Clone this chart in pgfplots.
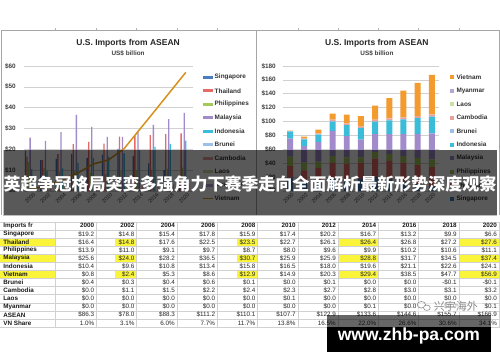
\documentclass[border=0pt]{standalone}
\usepackage{pgfplots}
\pgfplotsset{compat=1.18}
\usepackage{fontspec}
\setmainfont{Liberation Sans}
\newfontfamily\cjk{Noto Sans CJK SC}
\definecolor{cSing}{HTML}{4A7EBB}
\definecolor{cThai}{HTML}{E66A66}
\definecolor{cPhil}{HTML}{A5C85A}
\definecolor{cMal}{HTML}{A28BCB}
\definecolor{cIndo}{HTML}{3BBCD8}
\definecolor{cBru}{HTML}{9DC0E8}
\definecolor{cCam}{HTML}{E9A19B}
\definecolor{cLao}{HTML}{C9DFA3}
\definecolor{cMya}{HTML}{B6A6D6}
\definecolor{cViet}{HTML}{F39B2F}
\definecolor{cVnLine}{HTML}{D6911C}
\definecolor{cYel}{HTML}{FAF53A}
\begin{document}
\begin{tikzpicture}
\begin{scope}[x=1bp,y=1bp]
\useasboundingbox (0,0) rectangle (500,362);
\fill[white] (0,0) rectangle (500,362);
% panel frames
\draw[black!35, line width=0.6bp] (1.5,147) -- (1.5,331.5) -- (499,331.5) -- (499,147);
\draw[black!35, line width=0.6bp] (256.5,147) -- (256.5,331.5);
\foreach \xx in {55,96,136.5,177,217.5,298,338,378.5,418.5,459} \draw[black!30, line width=0.4bp] (\xx,331.5) -- (\xx,333.5);
% titles
\foreach \cx in {128,377}{
\node[font=\bfseries\fontsize{8.5bp}{10bp}\selectfont, text=black!85] at (\cx,319) {U.S. Imports from ASEAN};
\node[font=\bfseries\fontsize{6.4bp}{7bp}\selectfont, text=black!75] at (\cx,309) {US\$ billion};
}
\end{scope}
% ---------------- left chart ----------------
\begin{axis}[at={(23.8bp,171bp)}, anchor=south west, scale only axis,
  width=169.6bp, height=125bp, xmin=-0.5, xmax=10.5, ymin=0, ymax=60,
  ytick={0,10,20,30,40,50,60}, yticklabels={\$0,\$10,\$20,\$30,\$40,\$50,\$60},
  xtick={0,...,10}, xticklabels={2000,2002,2004,2006,2008,2010,2012,2014,2016,2018,2020},
  axis line style={draw=none}, major tick length=0, ymajorgrids,
  grid style={black!18, line width=0.5bp},
  yticklabel style={font=\bfseries\fontsize{6.4bp}{7bp}\selectfont, text=black!75, inner sep=0pt, xshift=-8bp},
  xticklabel style={font=\fontsize{5.5bp}{6bp}\selectfont, text=black!70, rotate=45, anchor=east, inner sep=0pt, yshift=-4bp}]
\addplot[ybar, bar width=1.3bp, bar shift=-6.2bp, fill=cSing, draw=none] coordinates {(0,19.2)(1,14.8)(2,15.4)(3,17.8)(4,15.9)(5,17.4)(6,20.2)(7,16.7)(8,13.2)(9,9.9)(10,6.6)};
\addplot[ybar, bar width=1.3bp, bar shift=-4.65bp, fill=cThai, draw=none] coordinates {(0,16.4)(1,14.8)(2,17.6)(3,22.5)(4,23.5)(5,22.7)(6,26.1)(7,26.4)(8,26.8)(9,27.2)(10,27.6)};
\addplot[ybar, bar width=1.3bp, bar shift=-3.1bp, fill=cPhil, draw=none] coordinates {(0,13.9)(1,11.0)(2,9.1)(3,9.7)(4,8.7)(5,8.0)(6,9.6)(7,9.9)(8,10.2)(9,10.6)(10,11.1)};
\addplot[ybar, bar width=1.3bp, bar shift=-1.55bp, fill=cMal, draw=none] coordinates {(0,25.6)(1,24.0)(2,28.2)(3,36.5)(4,30.7)(5,25.9)(6,25.9)(7,28.8)(8,31.7)(9,34.5)(10,37.4)};
\addplot[ybar, bar width=1.3bp, bar shift=0bp, fill=cIndo, draw=none] coordinates {(0,10.4)(1,9.6)(2,10.8)(3,13.4)(4,15.8)(5,16.5)(6,18.0)(7,19.6)(8,21.1)(9,22.6)(10,24.1)};
\addplot[ybar, bar width=1.3bp, bar shift=1.55bp, fill=cBru, draw=none] coordinates {(0,0.4)(1,0.3)(2,0.4)(3,0.6)(4,0.1)(5,0.0)(6,0.1)(7,0.0)(8,0.0)(9,-0.1)(10,-0.1)};
\addplot[ybar, bar width=1.3bp, bar shift=3.1bp, fill=cCam, draw=none] coordinates {(0,0.0)(1,1.1)(2,1.5)(3,2.2)(4,2.4)(5,2.3)(6,2.7)(7,2.8)(8,3.0)(9,3.1)(10,3.2)};
\addplot[ybar, bar width=1.3bp, bar shift=4.65bp, fill=cLao, draw=none] coordinates {(0,0)(1,0)(2,0)(3,0)(4,0)(5,0.1)(6,0)(7,0)(8,0)(9,0)(10,0)};
\addplot[ybar, bar width=1.3bp, bar shift=6.2bp, fill=cMya, draw=none] coordinates {(0,0)(1,0)(2,0)(3,0)(4,0)(5,0)(6,0)(7,0.1)(8,0)(9,0)(10,0.1)};
\addplot[line width=1.5bp, color=cVnLine, no marks] coordinates {(0,0.8)(1,2.4)(2,5.3)(3,8.6)(4,12.9)(5,14.9)(6,20.3)(7,29.4)(8,38.5)(9,47.7)(10,56.9)};
\end{axis}
% ---------------- right chart ----------------
\begin{axis}[at={(283bp,171bp)}, anchor=south west, scale only axis,
  width=156bp, height=125bp, xmin=-0.5, xmax=10.5, ymin=0, ymax=180,
  ybar stacked, bar width=6bp,
  ytick={0,20,40,60,80,100,120,140,160,180}, yticklabels={\$0,\$20,\$40,\$60,\$80,\$100,\$120,\$140,\$160,\$180},
  xtick={0,...,10}, xticklabels={2000,2002,2004,2006,2008,2010,2012,2014,2016,2018,2020},
  axis line style={draw=none}, major tick length=0, ymajorgrids,
  grid style={black!18, line width=0.5bp},
  yticklabel style={font=\bfseries\fontsize{6.4bp}{7bp}\selectfont, text=black!75, inner sep=0pt, xshift=-7bp},
  xticklabel style={font=\fontsize{5.5bp}{6bp}\selectfont, text=black!70, rotate=45, anchor=east, inner sep=0pt, yshift=-4bp}]
\addplot[fill=cSing, draw=none] coordinates {(0,19.2)(1,14.8)(2,15.4)(3,17.8)(4,15.9)(5,17.4)(6,20.2)(7,16.7)(8,13.2)(9,9.9)(10,6.6)};
\addplot[fill=cThai, draw=none] coordinates {(0,16.4)(1,14.8)(2,17.6)(3,22.5)(4,23.5)(5,22.7)(6,26.1)(7,26.4)(8,26.8)(9,27.2)(10,27.6)};
\addplot[fill=cPhil, draw=none] coordinates {(0,13.9)(1,11.0)(2,9.1)(3,9.7)(4,8.7)(5,8.0)(6,9.6)(7,9.9)(8,10.2)(9,10.6)(10,11.1)};
\addplot[fill=cMal, draw=none] coordinates {(0,25.6)(1,24.0)(2,28.2)(3,36.5)(4,30.7)(5,25.9)(6,25.9)(7,28.8)(8,31.7)(9,34.5)(10,37.4)};
\addplot[fill=cIndo, draw=none] coordinates {(0,10.4)(1,9.6)(2,10.8)(3,13.4)(4,15.8)(5,16.5)(6,18.0)(7,19.6)(8,21.1)(9,22.6)(10,24.1)};
\addplot[fill=cBru, draw=none] coordinates {(0,0.4)(1,0.3)(2,0.4)(3,0.6)(4,0.1)(5,0.0)(6,0.1)(7,0.0)(8,0.0)(9,-0.1)(10,-0.1)};
\addplot[fill=cCam, draw=none] coordinates {(0,0.0)(1,1.1)(2,1.5)(3,2.2)(4,2.4)(5,2.3)(6,2.7)(7,2.8)(8,3.0)(9,3.1)(10,3.2)};
\addplot[fill=cLao, draw=none] coordinates {(0,0)(1,0)(2,0)(3,0)(4,0)(5,0.1)(6,0)(7,0)(8,0)(9,0)(10,0)};
\addplot[fill=cMya, draw=none] coordinates {(0,0)(1,0)(2,0)(3,0)(4,0)(5,0)(6,0)(7,0.1)(8,0)(9,0)(10,0.1)};
\addplot[fill=cViet, draw=none] coordinates {(0,0.8)(1,2.4)(2,5.3)(3,8.6)(4,12.9)(5,14.9)(6,20.3)(7,29.4)(8,38.5)(9,47.7)(10,56.9)};
\end{axis}
\begin{scope}[x=1bp,y=1bp]
% left legend
\foreach \nm/\cc [count=\k from 0] in {Singapore/cSing,Thailand/cThai,Philippines/cPhil,Malaysia/cMal,Indonesia/cIndo,Brunei/cBru,Cambodia/cCam,Laos/cLao,Myanmar/cMya}{
  \fill[\cc] (203,{284.7-13.5*\k-1.6}) rectangle (213,{284.7-13.5*\k+1.6});
  \node[anchor=west, inner sep=0pt, font=\bfseries\fontsize{6.4bp}{7bp}\selectfont, text=black!80] at (214.5,{284.7-13.5*\k}) {\nm};
}
\draw[cVnLine, line width=1.5bp] (203,163.2) -- (213,163.2);
\node[anchor=west, inner sep=0pt, font=\bfseries\fontsize{6.4bp}{7bp}\selectfont, text=black!80] at (214.5,163.2) {Vietnam};
% right legend
\foreach \nm/\cc [count=\k from 0] in {Vietnam/cViet,Myanmar/cMya,Laos/cLao,Cambodia/cCam,Brunei/cBru,Indonesia/cIndo,Malaysia/cMal,Philippines/cPhil,Thailand/cThai,Singapore/cSing}{
  \fill[\cc] (450,{284.7-13.5*\k-2}) rectangle (454,{284.7-13.5*\k+2});
  \node[anchor=west, inner sep=0pt, font=\bfseries\fontsize{6.4bp}{7bp}\selectfont, text=black!80] at (456.5,{284.7-13.5*\k}) {\nm};
}
% ---------------- banner ----------------
\fill[black, opacity=0.65] (3,147) rectangle (497,212);
\draw[black!25, line width=0.6bp] (3,212) -- (3,147) -- (497,147);
\node[text=white, font=\cjk\bfseries\fontsize{17bp}{17bp}\selectfont, inner sep=0pt] at (250,177.5) {英超争冠格局突变多强角力下赛季走向全面解析最新形势深度观察};
% ---------------- table ----------------
\foreach \r in {2,4,6}{
  \fill[cYel] (0,{136-8.1*\r-4.05}) rectangle (55,{136-8.1*\r+4.05});
  \fill[cYel] (115,{136-8.1*\r-4.05}) rectangle (136.5,{136-8.1*\r+4.05});
  \fill[cYel] (237,{136-8.1*\r-4.05}) rectangle (257.5,{136-8.1*\r+4.05});
  \fill[cYel] (338,{136-8.1*\r-4.05}) rectangle (378,{136-8.1*\r+4.05});
  \fill[cYel] (460,{136-8.1*\r-4.05}) rectangle (499,{136-8.1*\r+4.05});
}
\foreach \k in {0,...,13} \draw[black!18, line width=0.4bp] (0,{140.05-8.1*\k}) -- (500,{140.05-8.1*\k});
\foreach \xx in {55,96,136.5,177,217.5,257.5,298,338,378.5,418.5,459,499} \draw[black!18, line width=0.4bp] (\xx,140.05) -- (\xx,34.75);
\foreach \lab [count=\r from 0] in {Imports fr,Singapore,Thailand,Philippines,Malaysia,Indonesia,Vietnam,Brunei,Cambodia,Laos,Myanmar,ASEAN,VN Share}
  \node[anchor=west, inner sep=0pt, font=\bfseries\fontsize{6.3bp}{7bp}\selectfont, text=black!90] at (3,{136-8.1*\r}) {\lab};
\def\trow#1#2{\foreach \v [count=\i] in {#2} \node[anchor=east, inner sep=0pt, font=\fontsize{6.3bp}{7bp}\selectfont, text=black!85] at ({54+40.3*\i},{136-8.1*#1}) {\v};}
\foreach \v [count=\i] in {2000,2002,2004,2006,2008,2010,2012,2014,2016,2018,2020} \node[anchor=east, inner sep=0pt, font=\bfseries\fontsize{6.3bp}{7bp}\selectfont, text=black!90] at ({54+40.3*\i},136) {\v};
\trow{1}{\$19.2,\$14.8,\$15.4,\$17.8,\$15.9,\$17.4,\$20.2,\$16.7,\$13.2,\$9.9,\$6.6}
\trow{2}{\$16.4,\$14.8,\$17.6,\$22.5,\$23.5,\$22.7,\$26.1,\$26.4,\$26.8,\$27.2,\$27.6}
\trow{3}{\$13.9,\$11.0,\$9.1,\$9.7,\$8.7,\$8.0,\$9.6,\$9.9,\$10.2,\$10.6,\$11.1}
\trow{4}{\$25.6,\$24.0,\$28.2,\$36.5,\$30.7,\$25.9,\$25.9,\$28.8,\$31.7,\$34.5,\$37.4}
\trow{5}{\$10.4,\$9.6,\$10.8,\$13.4,\$15.8,\$16.5,\$18.0,\$19.6,\$21.1,\$22.6,\$24.1}
\trow{6}{\$0.8,\$2.4,\$5.3,\$8.6,\$12.9,\$14.9,\$20.3,\$29.4,\$38.5,\$47.7,\$56.9}
\trow{7}{\$0.4,\$0.3,\$0.4,\$0.6,\$0.1,\$0.0,\$0.1,\$0.0,\$0.0,-\$0.1,-\$0.1}
\trow{8}{\$0.0,\$1.1,\$1.5,\$2.2,\$2.4,\$2.3,\$2.7,\$2.8,\$3.0,\$3.1,\$3.2}
\trow{9}{\$0.0,\$0.0,\$0.0,\$0.0,\$0.0,\$0.1,\$0.0,\$0.0,\$0.0,\$0.0,\$0.0}
\trow{10}{\$0.0,\$0.0,\$0.0,\$0.0,\$0.0,\$0.0,\$0.0,\$0.1,\$0.0,\$0.0,\$0.1}
\trow{11}{\$86.3,\$78.0,\$88.3,\$111.2,\$110.1,\$107.7,\$122.9,\$133.6,\$144.6,\$155.7,\$166.9}
\trow{12}{1.0\%,3.1\%,6.0\%,7.7\%,11.7\%,13.8\%,16.5\%,22.0\%,26.6\%,30.6\%,34.1\%}
% watermark
\fill[white, opacity=0.5] (416,50) rectangle (482,61);
\draw[black!45, line width=0.6bp] (421.5,57) ellipse (4.2 and 3.3);
\draw[black!45, line width=0.6bp, fill=white] (427,54) ellipse (3.4 and 2.7);
\node[text=black!45, font=\cjk\fontsize{11bp}{11bp}\selectfont, inner sep=0pt] at (456,55.5) {兴宇海外};
% black box
\fill[black, opacity=0.6] (327,35) rectangle (491,47);
\fill[black] (327,9.3) rectangle (491,35);
\node[text=white, font=\bfseries\fontsize{17.5bp}{18bp}\selectfont, inner sep=0pt] at (409,25.3) {www.zhb-pa.com};
\end{scope}
\end{tikzpicture}
\end{document}
